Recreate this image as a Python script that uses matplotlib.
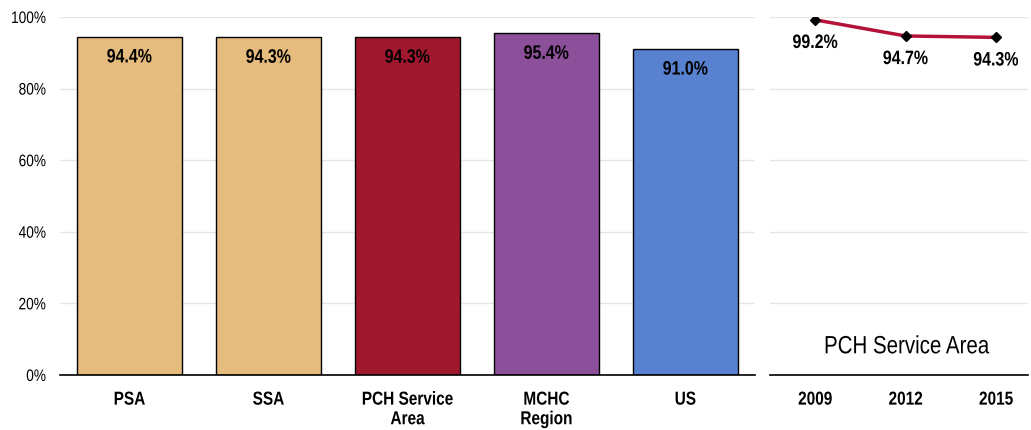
import matplotlib
matplotlib.use('Agg')
import matplotlib.pyplot as plt
from matplotlib.patheffects import AbstractPathEffect
from matplotlib.transforms import Affine2D

plt.rcParams['font.family'] = ['Liberation Sans', 'DejaVu Sans']


class Condense(AbstractPathEffect):
    """Squeeze text horizontally to mimic a narrow face."""

    def __init__(self, sx=0.82, anchor='center'):
        super().__init__()
        self.sx = sx
        self.anchor = anchor

    def draw_path(self, renderer, gc, tpath, affine, rgbFace=None):
        v = tpath.vertices
        if len(v) == 0:
            return
        lo, hi = v[:, 0].min(), v[:, 0].max()
        cx = {'left': lo, 'right': hi}.get(self.anchor, (lo + hi) / 2)
        t = Affine2D().translate(-cx, 0).scale(self.sx, 1).translate(cx, 0)
        renderer.draw_path(gc, tpath, t + affine, rgbFace)


narrow_c = [Condense(0.82, 'center')]
narrow_r = [Condense(0.82, 'right')]

# area comparison
areas = ['PSA', 'SSA', 'PCH Service\nArea', 'MCHC\nRegion', 'US']
area_vals = [94.4, 94.3, 94.3, 95.4, 91.0]
area_colors = ['#E5BC7D', '#E5BC7D', '#A0182D', '#8C4F9A', '#5881D0']

# trend for the service area
years = ['2009', '2012', '2015']
trend_vals = [99.2, 94.7, 94.3]

fig = plt.figure(figsize=(10.31, 4.30), dpi=100)
ax = fig.add_axes([0.0582, 0.128, 0.674, 0.8325])
ax2 = fig.add_axes([0.7468, 0.128, 0.250, 0.8325])

grid_c = '#E6E6E6'
for a in (ax, ax2):
    a.set_ylim(0, 100)
    a.set_yticks(range(0, 101, 20))
    a.grid(axis='y', color=grid_c, linewidth=1)
    a.set_axisbelow(True)
    for s in ('top', 'right', 'left'):
        a.spines[s].set_visible(False)
    a.spines['bottom'].set_color('black')
    a.spines['bottom'].set_linewidth(1.2)
    a.tick_params(axis='both', length=0)

x = range(len(areas))
bars = ax.bar(x, area_vals, width=0.75, color=area_colors,
              edgecolor='black', linewidth=1)
ax.set_xlim(-0.5, len(areas) - 0.5)
ax.set_xticks(list(x))
ax.set_xticklabels(areas, fontsize=13.5, fontweight='bold', linespacing=1.2)
ax.tick_params(axis='x', pad=12)
ax.set_yticklabels(['%d%%' % v for v in range(0, 101, 20)], fontsize=12)
ax.tick_params(axis='y', pad=10)
for lbl in ax.get_xticklabels():
    lbl.set_path_effects(narrow_c)
for lbl in ax.get_yticklabels():
    lbl.set_path_effects(narrow_r)

for xi, v in zip(x, area_vals):
    ax.annotate('%.1f%%' % v, (xi, v), xytext=(0, -15), textcoords='offset points',
                ha='center', va='center', fontsize=14, fontweight='bold',
                path_effects=narrow_c)

xt = range(len(years))
ax2.plot(list(xt), trend_vals, color='#B5123A', linewidth=2.5,
         marker='D', markersize=5, markerfacecolor='black', markeredgecolor='black')
ax2.set_xlim(-0.5, 2.35)
ax2.set_xticks(list(xt))
ax2.set_xticklabels(years, fontsize=13.5, fontweight='bold')
ax2.tick_params(axis='x', pad=12)
ax2.set_yticklabels([])
for lbl in ax2.get_xticklabels():
    lbl.set_path_effects(narrow_c)
for xi, v in zip(xt, trend_vals):
    ax2.annotate('%.1f%%' % v, (xi, v), xytext=(0, -17), textcoords='offset points',
                 ha='center', va='center', fontsize=14, fontweight='bold',
                 path_effects=narrow_c)
ax2.text(0.53, 0.08, 'PCH Service Area', transform=ax2.transAxes,
         ha='center', va='center', fontsize=18, path_effects=narrow_c)

fig.savefig('out.png', dpi=100)
